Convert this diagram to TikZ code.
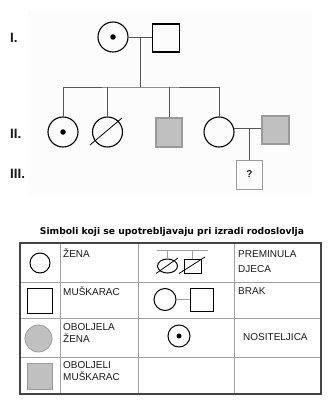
\documentclass[tikz,border=0pt]{standalone}
\usepackage{fontspec}
\setmainfont{Liberation Sans}
\newfontfamily\titlefont{DejaVu Sans}
\usetikzlibrary{shapes.geometric,calc}
\definecolor{linegray}{HTML}{555555}
\definecolor{affgray}{HTML}{C0C0C0}
\definecolor{affborder}{HTML}{9A9A9A}
\definecolor{panelgray}{HTML}{FCFCFC}
\definecolor{tabouter}{HTML}{444444}
\definecolor{tabinner}{HTML}{A0A0A0}
\definecolor{txt}{HTML}{1A1A1A}
\tikzset{
  fem/.style={circle, draw=black, line width=1.1pt, minimum size=30pt, inner sep=0pt},
  mal/.style={rectangle, draw=black, line width=1.1pt, minimum width=27pt, minimum height=28pt, inner sep=0pt},
  aff/.style={fill=affgray, draw=affborder},
  dotmark/.style={circle, fill=black, minimum size=5.5pt, inner sep=0pt},
  conn/.style={draw=linegray, line width=0.8pt},
  slash/.style={draw=black, line width=0.8pt},
  gen/.style={font=\fontsize{13.5}{13.5}\selectfont\bfseries, text=txt, anchor=base west, inner sep=0pt},
  lbl/.style={font=\fontsize{10}{11}\selectfont, text=txt, anchor=base west, inner sep=0pt},
  tinner/.style={draw=tabinner, line width=0.7pt},
  touter/.style={draw=tabouter, line width=1.2pt}
}
\begin{document}
\begin{tikzpicture}[x=1pt,y=-1pt]
\useasboundingbox (0,0) rectangle (332,409);
\fill[white] (0,0) rectangle (332,409);
\fill[panelgray] (28,10) rectangle (312,196);

% generation labels
\node[gen] (lI) at (10,43) {I.};
\node[gen] (lII) at (10,138) {II.};
\node[gen] (lIII) at (10,178) {III.};

% generation I
\node[fem] (g1f) at (113,37) {};
\node[dotmark] (g1fd) at (g1f) {};
\node[mal] (g1m) at (166,38) {};
\coordinate (g1mid) at (140,37.5);
\coordinate (sib) at (140,87);
\draw[conn] (g1f.east) -- (g1f.east -| g1m.west);
\draw[conn] (g1mid) -- (sib);

% generation II
\node[fem] (c1) at (63,132) {};
\node[dotmark] (c1d) at (c1) {};
\node[fem] (c2) at (107.5,132) {};
\draw[slash] ($(c2)+(-17.5,13)$) -- ($(c2)+(14.5,-14)$);
\node[mal, aff, minimum width=26pt, minimum height=29pt] (c3) at (169,132.5) {};
\node[fem] (c4) at (219,132) {};
\node[mal, aff] (p) at (275.5,130) {};
\draw[conn] (c1.north) |- (sib) -| (c4.north);
\draw[conn] (c2.north) -- (c2.north |- sib);
\draw[conn] (c3.north) -- (c3.north |- sib);

% generation III
\node[mal, draw=affborder, line width=0.8pt, minimum width=26pt, minimum height=29pt,
      font=\fontsize{10}{10}\selectfont\bfseries, text=txt] (q) at (249.5,174.5) {?};
\draw[conn] (c4.12) -- (c4.12 -| p.west);
\draw[conn] (c4.12 -| q.north) -- (q.north);

% title
\node[font=\titlefont\bfseries\fontsize{9.2}{10}\selectfont, text=black, inner sep=0pt] (title) at (172,232)
  {Simboli koji se upotrebljavaju pri izradi rodoslovlja};

% table
\draw[tinner] (60,243) -- (60,394);
\draw[tinner] (138,243) -- (138,394);
\draw[tinner] (234,243) -- (234,394);
\draw[tinner] (20,282) -- (321,282);
\draw[tinner] (20,318) -- (321,318);
\draw[tinner] (20,357) -- (321,357);
\draw[touter] (20,243) rectangle (321,394);

% legend symbols, column 1
\node[fem, line width=1pt, minimum size=20pt] (lf) at (40,263) {};
\node[mal, line width=1pt, minimum width=25pt, minimum height=25pt] (lm) at (39.5,300.5) {};
\node[fem, aff, line width=0.8pt, minimum size=27pt] (laf) at (38.5,338.5) {};
\node[mal, aff, line width=0.8pt, minimum width=25pt, minimum height=26pt] (lam) at (39.5,376) {};

% legend symbols, column 3
\coordinate (dl) at (157,250);
\coordinate (dr) at (208,250);
\node[ellipse, draw=black, line width=1pt, minimum width=20pt, minimum height=14pt, inner sep=0pt] (de) at (167.5,266) {};
\node[rectangle, draw=black, line width=1pt, minimum width=17pt, minimum height=14pt, inner sep=0pt] (dm) at (192.5,266) {};
\draw[draw=tabinner, line width=0.7pt] (dl) -- (dr);
\draw[draw=tabinner, line width=0.7pt] (de.north |- dl) -- (de.north);
\draw[draw=tabinner, line width=0.7pt] (dm.north |- dl) -- (dm.north);
\draw[slash] (156,273.5) -- (178,258);
\draw[slash] (179,273.5) -- (205,257);

\node[fem, line width=1pt, minimum size=22pt] (lbf) at (165,299.5) {};
\node[mal, line width=1pt, minimum width=23pt, minimum height=23pt] (lbm) at (201.5,299.5) {};
\draw[draw=tabinner, line width=0.7pt] (lbf.east) -- (lbm.west);

\node[fem, line width=1pt, minimum size=22pt] (lc) at (179,336) {};
\node[dotmark, minimum size=5pt] (lcd) at (lc) {};

% legend texts
\node[lbl] (t1) at (63,257) {ŽENA};
\node[lbl] (t2) at (63,295) {MUŠKARAC};
\node[lbl] (t3a) at (63,330) {OBOLJELA};
\node[lbl] (t3b) at (63,342) {ŽENA};
\node[lbl] (t4a) at (63,368) {OBOLJELI};
\node[lbl] (t4b) at (63,380) {MUŠKARAC};
\node[lbl] (t5a) at (238,257) {PREMINULA};
\node[lbl] (t5b) at (238,272) {DJECA};
\node[lbl] (t6) at (238,294) {BRAK};
\node[lbl] (t7) at (243,340) {NOSITELJICA};
\end{tikzpicture}
\end{document}
